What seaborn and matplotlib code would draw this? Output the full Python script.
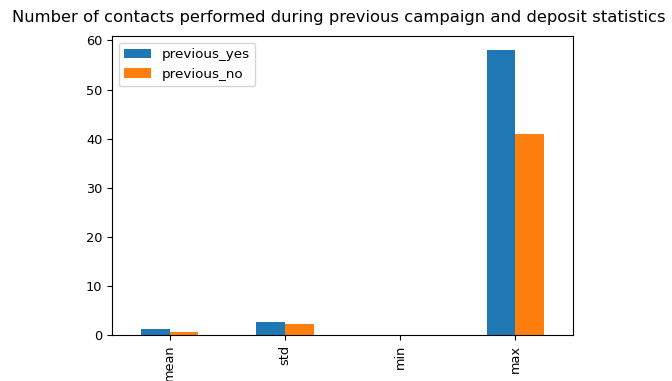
import matplotlib
matplotlib.use("Agg")
import matplotlib.pyplot as plt
import pandas as pd
import seaborn as sns

# Summary statistics of the "previous" column split by deposit outcome
stats = ["mean", "std", "min", "max"]
previous_yes = [1.2, 2.6, 0, 58]
previous_no = [0.53, 2.2, 0, 41]

df = pd.DataFrame({
    "stat": stats * 2,
    "value": previous_yes + previous_no,
    "series": ["previous_yes"] * len(stats) + ["previous_no"] * len(stats),
})

fig = plt.figure(figsize=(6.72, 3.81), dpi=100)
ax = fig.add_axes([0.1667, 0.1207, 0.686, 0.7848])

sns.barplot(
    data=df, x="stat", y="value", hue="series",
    order=stats, hue_order=["previous_yes", "previous_no"],
    palette=["#1f77b4", "#ff7f0e"], saturation=1,
    width=0.5, linewidth=0, errorbar=None, ax=ax,
)

ax.set_xlabel("")
ax.set_ylabel("")
ax.set_xlim(-0.5, 3.5)
ax.set_ylim(0, 60.9)
ax.set_yticks([0, 10, 20, 30, 40, 50, 60])
ax.tick_params(axis="both", labelsize=9.3)
plt.setp(ax.get_xticklabels(), rotation=90)

ax.legend(title=None, loc="upper left", fontsize=9.7)
fig.suptitle("Number of contacts performed during previous campaign and deposit statistics",
             x=0.504, y=0.975, fontsize=11.8)

fig.savefig("out.png", dpi=100)
